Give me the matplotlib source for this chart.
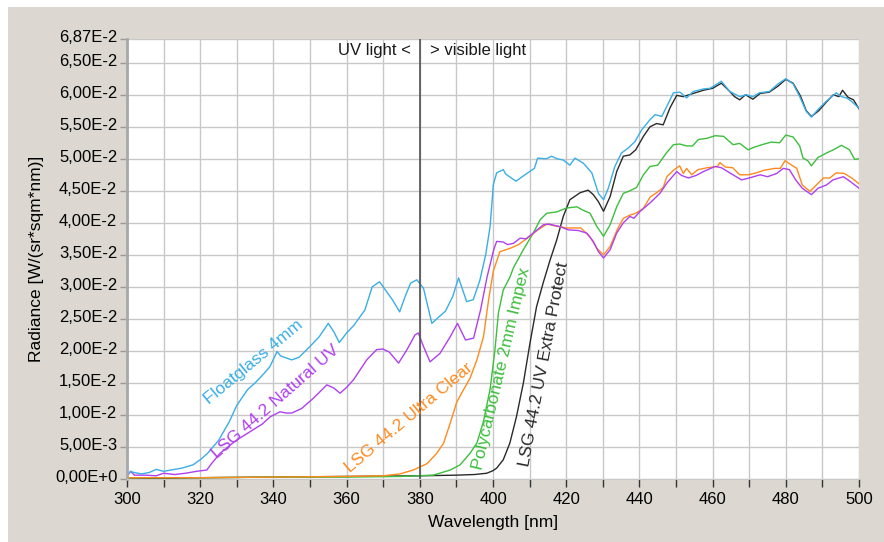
import matplotlib
matplotlib.use('Agg')
import matplotlib.pyplot as plt
import matplotlib.transforms as mtransforms
from matplotlib.patches import Rectangle
import numpy as np

plt.rcParams['font.family'] = ['Liberation Sans', 'DejaVu Sans']

# values in units of 1e-2 W/(sr*sqm*nm)
float_wl = [300, 301, 302, 304, 306, 308, 310, 312, 315, 318, 320, 322, 325, 328, 330, 333, 335, 337,
            339, 341, 342, 344, 345, 347, 350, 352.5, 355, 356.5, 358, 360, 362, 365, 367, 369, 371,
            372.5, 374.5, 376, 377.5, 379.2, 381, 383.3, 385, 387, 389, 390.6, 392.8, 394.6, 396.4,
            398, 399.2, 400.1, 401, 402.8, 403.5, 405, 406.3, 408, 409.5, 411.3, 412.2, 414.6, 416,
            417.5, 419.2, 421, 422.4, 424.7, 427, 428.8, 430.2, 431.5, 433.3, 435.1, 437, 438.8,
            440.6, 442.9, 444.3, 446.1, 447.5, 449.3, 451.1, 452.9, 454.7, 457.5, 459.3, 462.4,
            464.7, 467.4, 469.2, 471, 472.8, 475.5, 477.9, 480, 482, 483.8, 485.6, 487, 488.8,
            491.1, 493.8, 495.2, 496.6, 497.9, 500]
float_val = [0.05, 0.12, 0.1, 0.08, 0.1, 0.15, 0.12, 0.14, 0.17, 0.22, 0.3, 0.4, 0.6, 0.9, 1.15, 1.4,
             1.5, 1.62, 1.75, 1.99, 1.92, 1.88, 1.86, 1.9, 2.07, 2.22, 2.43, 2.3, 2.13, 2.28, 2.4,
             2.64, 3.0, 3.08, 2.92, 2.8, 2.61, 2.85, 3.06, 3.11, 2.98, 2.43, 2.52, 2.62, 2.85, 3.14,
             2.77, 2.8, 3.1, 3.5, 3.94, 4.6, 4.78, 4.83, 4.76, 4.7, 4.65, 4.72, 4.78, 4.85, 5.01,
             5.0, 5.04, 5.0, 4.98, 4.9, 5.01, 4.93, 4.78, 4.46, 4.36, 4.54, 4.88, 5.09, 5.17, 5.27,
             5.45, 5.61, 5.69, 5.66, 5.82, 6.03, 6.04, 5.95, 6.05, 6.09, 6.1, 6.21, 6.05, 5.97, 6.0,
             5.97, 6.03, 6.05, 6.17, 6.25, 6.17, 5.97, 5.74, 5.65, 5.77, 5.9, 6.03, 5.97, 5.95, 5.9,
             5.79]

natural_wl = [300, 301, 302, 305, 308, 310, 313, 316, 319, 321.8, 323.1, 325.4, 328, 330, 332, 334.5,
              337, 339.1, 341.8, 343.5, 345, 347.7, 350.9, 352.5, 354.6, 356.5, 358.2, 360, 361.9,
              365.5, 368.2, 369.9, 371.7, 374.2, 376.5, 378.7, 379.6, 381, 382.8, 385.5, 388.3,
              390.3, 392.5, 394.7, 396.6, 398.4, 400.2, 401, 402.8, 404, 405.6, 407.4, 409, 411,
              413.8, 415.3, 418.3, 420.6, 423.3, 425.6, 427.4, 428.8, 430.2, 432, 433.8, 435.6,
              437.4, 438.5, 440.2, 442.9, 445.6, 447.5, 450.2, 451.5, 453.4, 455.5, 457.5, 460.7,
              462.4, 464.7, 467.9, 470, 473, 475, 477.5, 479.3, 481, 482.7, 484.5, 487, 488.8,
              491.1, 492.9, 495.7, 497.5, 500]
natural_val = [0.04, 0.12, 0.06, 0.06, 0.05, 0.09, 0.07, 0.09, 0.12, 0.14, 0.24, 0.4, 0.52, 0.61,
               0.68, 0.77, 0.86, 0.97, 1.05, 1.03, 1.03, 1.1, 1.26, 1.35, 1.47, 1.42, 1.34, 1.43,
               1.55, 1.86, 2.02, 2.03, 1.98, 1.81, 2.02, 2.25, 2.28, 2.07, 1.83, 1.96, 2.22, 2.43,
               2.17, 2.2, 2.64, 3.16, 3.58, 3.71, 3.7, 3.66, 3.68, 3.76, 3.75, 3.84, 3.97, 3.98,
               3.94, 3.89, 3.88, 3.84, 3.71, 3.55, 3.45, 3.58, 3.84, 4.0, 4.1, 4.07, 4.18, 4.31,
               4.46, 4.62, 4.8, 4.74, 4.7, 4.74, 4.8, 4.88, 4.86, 4.78, 4.67, 4.7, 4.75, 4.72, 4.77,
               4.85, 4.83, 4.67, 4.54, 4.44, 4.54, 4.59, 4.67, 4.72, 4.65, 4.54]

clear_wl = [300, 320, 340, 360, 370, 374.6, 378.2, 382, 384.6, 386.5, 388.3, 390.1, 391.9, 393.7,
            395.6, 397.4, 398.8, 400.1, 401.9, 404.6, 407, 410.1, 412, 414.7, 418, 420, 424, 426.5,
            428.4, 430.2, 432, 434, 435.6, 437.4, 439, 441, 442.9, 444.7, 446.5, 447.5, 449.3, 451,
            452, 452.9, 454.3, 456, 458.5, 461.3, 462, 463.5, 465.5, 467.4, 469.7, 472, 474, 477,
            478.5, 479.8, 481.6, 483, 484.5, 486.6, 488.5, 490.3, 492, 493.8, 496, 498, 500]
clear_val = [0.02, 0.02, 0.03, 0.04, 0.05, 0.08, 0.14, 0.24, 0.4, 0.56, 0.87, 1.2, 1.39, 1.57, 1.86,
             2.22, 2.8, 3.25, 3.55, 3.6, 3.66, 3.79, 3.88, 3.98, 3.94, 3.92, 3.92, 3.78, 3.6, 3.5,
             3.63, 3.9, 4.07, 4.12, 4.15, 4.22, 4.4, 4.47, 4.55, 4.72, 4.82, 4.89, 4.77, 4.85, 4.75,
             4.83, 4.86, 4.88, 4.94, 4.87, 4.86, 4.75, 4.75, 4.78, 4.82, 4.85, 4.85, 4.97, 4.9,
             4.85, 4.59, 4.49, 4.6, 4.7, 4.7, 4.78, 4.77, 4.7, 4.61]

poly_wl = [300, 320, 340, 360, 375, 383.7, 388.3, 391, 393.7, 395.6, 397.4, 399.2, 400.5, 401.5,
           402.8, 404.6, 405.6, 408.3, 411, 412.9, 414.7, 417.4, 420, 422.9, 424.5, 426.5, 428.4,
           430.2, 432, 433.8, 435.6, 437.4, 439.2, 441.1, 442.9, 445, 447.5, 449.3, 451, 453,
           454.5, 456.1, 458.5, 460.7, 463, 465.6, 467.4, 469.7, 471.3, 473.5, 476, 478.3, 480,
           482, 483.8, 484.7, 486, 487, 488.8, 491.1, 493, 495.2, 497.4, 498.8, 500]
poly_val = [0.02, 0.02, 0.03, 0.03, 0.04, 0.06, 0.14, 0.22, 0.4, 0.56, 0.9, 1.4, 2.0, 2.6, 2.95,
            3.15, 3.3, 3.58, 3.84, 4.05, 4.15, 4.17, 4.23, 4.25, 4.2, 4.15, 3.94, 3.79, 3.97, 4.25,
            4.46, 4.5, 4.55, 4.75, 4.88, 4.9, 5.1, 5.22, 5.23, 5.2, 5.2, 5.3, 5.32, 5.36, 5.35,
            5.22, 5.24, 5.14, 5.18, 5.22, 5.26, 5.25, 5.37, 5.34, 5.2, 5.01, 4.97, 4.89, 5.02,
            5.09, 5.14, 5.21, 5.14, 4.99, 5.0]

extra_wl = [300, 320, 340, 360, 380, 390, 395, 398.3, 400, 401, 402.8, 404.6, 406.4, 408.3, 410.1,
            411.9, 413.7, 415.6, 417.4, 419.2, 421, 423.8, 426, 427.4, 428.8, 430.2, 432, 433.8,
            435.6, 437.4, 439, 441.1, 442.9, 444.7, 446.5, 448.4, 450.2, 452, 454.7, 457.5, 460,
            462.4, 464.7, 466, 467.4, 469, 471, 473, 475.5, 478, 480, 482, 484, 485.6, 487, 489,
            491, 493, 494.5, 495.5, 497, 498.5, 500]
extra_val = [0.0, 0.02, 0.03, 0.04, 0.05, 0.06, 0.07, 0.09, 0.13, 0.17, 0.3, 0.56, 0.97, 1.5, 2.12,
             2.69, 3.06, 3.42, 3.73, 4.1, 4.36, 4.47, 4.51, 4.44, 4.33, 4.18, 4.41, 4.8, 5.04, 5.06,
             5.14, 5.35, 5.5, 5.55, 5.53, 5.8, 5.99, 5.97, 6.02, 6.07, 6.1, 6.18, 6.05, 5.97, 5.92,
             6.0, 5.93, 6.02, 6.04, 6.14, 6.24, 6.18, 5.98, 5.75, 5.66, 5.75, 5.88, 6.0, 5.97,
             6.07, 5.96, 5.92, 5.78]

series = [
    ('Floatglass 4mm', float_wl, float_val, '#3aaee6', 334.5, 1.83, 39.6),
    ('LSG 44.2 Natural UV', natural_wl, natural_val, '#b03ff0', 340.6, 1.21, 41.2),
    ('LSG 44.2 Ultra Clear', clear_wl, clear_val, '#ff8a1e', 376.9, 0.95, 40.0),
    ('Polycarbonate 2mm Impex', poly_wl, poly_val, '#3cbf3c', 402.3, 1.72, 76.7),
    ('LSG 44.2 UV Extra Protect', extra_wl, extra_val, '#2a2a2a', 414.0, 1.79, 79.2),
]

y_ticks = [0, 0.005, 0.01, 0.015, 0.02, 0.025, 0.03, 0.035, 0.04, 0.045, 0.05, 0.055, 0.06, 0.065, 0.0687]


def sci_label(v):
    s = '{:.2E}'.format(v)
    mant, exp = s.split('E')
    sign = exp[0]
    exp = str(int(exp[1:]))
    return mant.replace('.', ',') + 'E' + sign + exp


fig = plt.figure(figsize=(8.84, 5.42), dpi=100, facecolor='white')
fig.patches.append(Rectangle((8 / 884, 0), 1, 1 - 7 / 542, transform=fig.transFigure,
                             facecolor='#dcd8d1', edgecolor='none', zorder=-10))
ax = fig.add_axes([127 / 884, 1 - 479 / 542, 732 / 884, 440 / 542])
ax.set_facecolor('white')

# draw order: black at the back so blue stays visible on top
for name, wl, val, color, tx, ty, rot in series[::-1]:
    ax.plot(wl, np.array(val) * 1e-2, color=color, lw=1.0)
for name, wl, val, color, tx, ty, rot in series:
    ax.text(tx, ty * 1e-2, name, color=color, fontsize=12.5, rotation=rot,
            rotation_mode='anchor', ha='center', va='center')

ax.axvline(380, color='#505050', lw=1.2)
ax.text(377.5, 0.0669, 'UV light <', fontsize=12, ha='right', va='center', color='#1a1a1a')
ax.text(382.8, 0.0669, '> visible light', fontsize=12, ha='left', va='center', color='#1a1a1a')

ax.set_xlim(300, 500)
ax.set_ylim(0, 0.0687)
ax.set_xticks(np.arange(300, 501, 20))
ax.set_xticks(np.arange(310, 500, 20), minor=True)
ax.set_yticks(y_ticks)
ax.set_yticklabels([sci_label(v) for v in y_ticks])
ax.grid(True, which='both', color='#c8c8c8', lw=1.0)
ax.set_axisbelow(True)

ax.tick_params(axis='x', which='both', direction='out', length=6, width=1, color='#333333',
               labelsize=12, pad=3)
ax.tick_params(axis='y', direction='out', length=5, width=1, color='#999999', labelsize=12, pad=2)
offset = mtransforms.ScaledTranslation(0, 3 / 100, fig.dpi_scale_trans)
for lab in ax.get_yticklabels():
    lab.set_transform(lab.get_transform() + offset)

for side in ['top', 'right']:
    ax.spines[side].set_visible(False)
ax.spines['left'].set_color('#a8a8a8')
ax.spines['left'].set_linewidth(2)
ax.spines['bottom'].set_color('#c8c8c8')

ax.set_xlabel('Wavelength [nm]', fontsize=12.5, labelpad=6)
ax.set_ylabel('Radiance [W/(sr*sqm*nm)]', fontsize=12.5, labelpad=8)

fig.savefig('out.png', dpi=100, facecolor=fig.get_facecolor())
